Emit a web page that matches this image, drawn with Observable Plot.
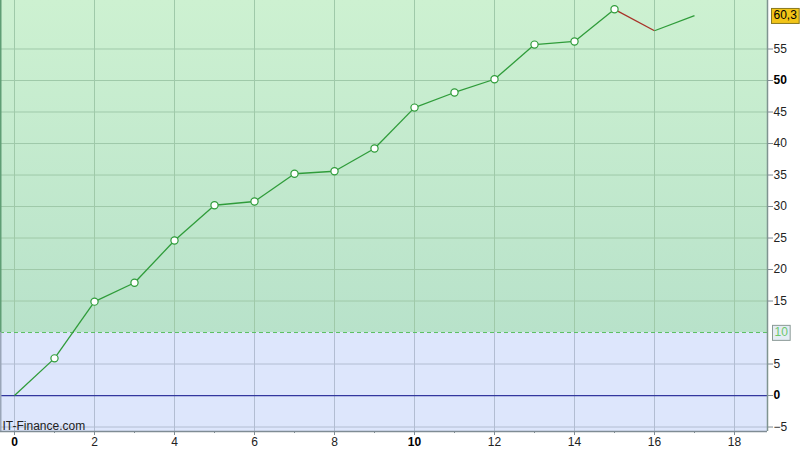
<!DOCTYPE html>
<html><head><meta charset="utf-8">
<script src="https://cdn.jsdelivr.net/npm/d3@7"></script>
<script src="https://cdn.jsdelivr.net/npm/@observablehq/plot@0.6"></script>
<style>body{margin:0;background:#fff;} svg{display:block;} </style>
</head><body><div id="chart"></div>
<script>
const xs = [0,1,2,3,4,5,6,7,8,9,10,11,12,13,14,15,16,17];
const values = [0,5.9,14.9,17.9,24.6,30.2,30.8,35.2,35.6,39.2,45.7,48.1,50.2,55.7,56.2,61.3,57.9,60.3];
const markerIdx = [1,2,3,4,5,6,7,8,9,10,11,12,13,14,15];
const xTicks = [0,2,4,6,8,10,12,14,16,18];
const xMinor = [1,3,5,7,9,11,13,15,17];
const xBold = [0,10];
const yTicks = [-5,0,5,10,15,20,25,30,35,40,45,50,55];
const yBold = [0,50];
const threshold = 10;
const lastLabel = "60,3";
const watermark = "IT-Finance.com";

const xDom = [-0.35, 18.825];
const yDom = [-5.71, 62.7];

const segs = values.slice(0,-1).map((v,i)=>({x1:xs[i], y1:v, x2:xs[i+1], y2:values[i+1], down: values[i+1] < v}));
const pts = markerIdx.map(i=>({x:xs[i], y:values[i]}));

const defs = () => {
  const d = d3.create("svg:defs");
  d.html('<linearGradient id="gg" x1="0" y1="0" x2="0" y2="1"><stop offset="0" stop-color="#cdf1d1"/><stop offset="1" stop-color="#b8e2ca"/></linearGradient>');
  return d.node();
};

const font = "Arial, 'Liberation Sans', sans-serif";
const chart = Plot.plot({
  width: 809, height: 450,
  marginLeft: 0, marginRight: 42, marginTop: 0, marginBottom: 19,
  style: {fontFamily: font, fontSize: "12px", background: "#fff", color: "#222"},
  x: {domain: xDom},
  y: {domain: yDom},
  marks: [
    defs,
    Plot.rect([0], {x1: xDom[0], x2: xDom[1], y1: threshold, y2: yDom[1], fill: "url(#gg)"}),
    Plot.rect([0], {x1: xDom[0], x2: xDom[1], y1: yDom[0], y2: threshold, fill: "#dde6fc"}),
    Plot.ruleX(xTicks, {y1: threshold, y2: yDom[1], stroke: "#9fc9a9", strokeWidth: 1}),
    Plot.ruleX(xTicks, {y1: yDom[0], y2: threshold, stroke: "#b2bdd2", strokeWidth: 1}),
    Plot.ruleY(yTicks.filter(v=>v>threshold), {stroke: "#9fc9a9", strokeWidth: 1}),
    Plot.ruleY(yTicks.filter(v=>v<threshold && v!==0), {stroke: "#b2bdd2", strokeWidth: 1}),
    Plot.ruleY([threshold], {stroke: "#5cbf62", strokeDasharray: "4,3", strokeWidth: 1}),
    Plot.ruleY([0], {stroke: "#33379e", strokeWidth: 1.2}),
    Plot.ruleX([xDom[0]], {y1: threshold, y2: yDom[1], stroke: "#5f9e75", strokeWidth: 2}),
    Plot.ruleX([xDom[0]], {y1: yDom[0], y2: threshold, stroke: "#9aa6b8", strokeWidth: 2}),
    Plot.ruleX([xDom[1]], {stroke: "#7f9490", strokeWidth: 1.5}),
    Plot.ruleY([yDom[0]], {stroke: "#7f8c94", strokeWidth: 1.5}),
    Plot.link(segs, {x1:"x1", y1:"y1", x2:"x2", y2:"y2", stroke: d=> d.down ? "#a83228" : "#2f9c3a", strokeWidth: 1.3}),
    Plot.dot(pts, {x:"x", y:"y", r: 3.6, fill: "#fff", stroke: "#2f9c3a", strokeWidth: 1.2}),
    Plot.axisX(xTicks.filter(v=>!xBold.includes(v)), {tickSize: 4, tickPadding: 2, stroke: "#7f8c94", fill: "#222", fontSize: 12}),
    Plot.axisX(xBold, {tickSize: 4, tickPadding: 2, stroke: "#7f8c94", fill: "#000", fontSize: 12, fontWeight: "bold"}),
    Plot.axisX(xMinor, {tickSize: 2, text: null, stroke: "#7f8c94"}),
    Plot.axisY(yTicks.filter(v=>!yBold.includes(v) && v!==threshold), {anchor: "right", tickSize: 5, tickPadding: 1, stroke: "#7f8c94", fill: "#222", fontSize: 12}),
    Plot.axisY(yBold, {anchor: "right", tickSize: 5, tickPadding: 1, stroke: "#7f8c94", fill: "#000", fontSize: 12, fontWeight: "bold"}),
    Plot.text([threshold], {x: xDom[1], y: d=>d, text: d=>String(d), dx: 7, textAnchor: "start", fill: "#6cc86c", fontSize: 12, className: "box-thr"}),
    Plot.text([values[values.length-1]], {x: xDom[1], y: d=>d, text: ()=>lastLabel, dx: 6, textAnchor: "start", fill: "#000", fontSize: 12, className: "box-last"}),
    Plot.text([watermark], {frameAnchor: "bottom-left", dx: 2, dy: -2, textAnchor: "start", lineAnchor: "bottom", fill: "#222", fontSize: 12})
  ]
});
document.getElementById("chart").append(chart);
function boxIt(cls, fill, stroke) {
  d3.select(chart).selectAll("g." + cls + " text").each(function() {
    const b = this.getBBox();
    const r = d3.select(this.parentNode).insert("rect", () => this)
      .attr("x", b.x - 2).attr("y", b.y)
      .attr("width", b.width + 4).attr("height", b.height + 1)
      .attr("fill", fill).attr("stroke", stroke).attr("stroke-width", 1);
    const t = this.getAttribute("transform");
    if (t) r.attr("transform", t);
  });
}
boxIt("box-thr", "#e4ecf4", "#8a9a96");
boxIt("box-last", "#f2c418", "#8a7a20");
</script></body></html>
